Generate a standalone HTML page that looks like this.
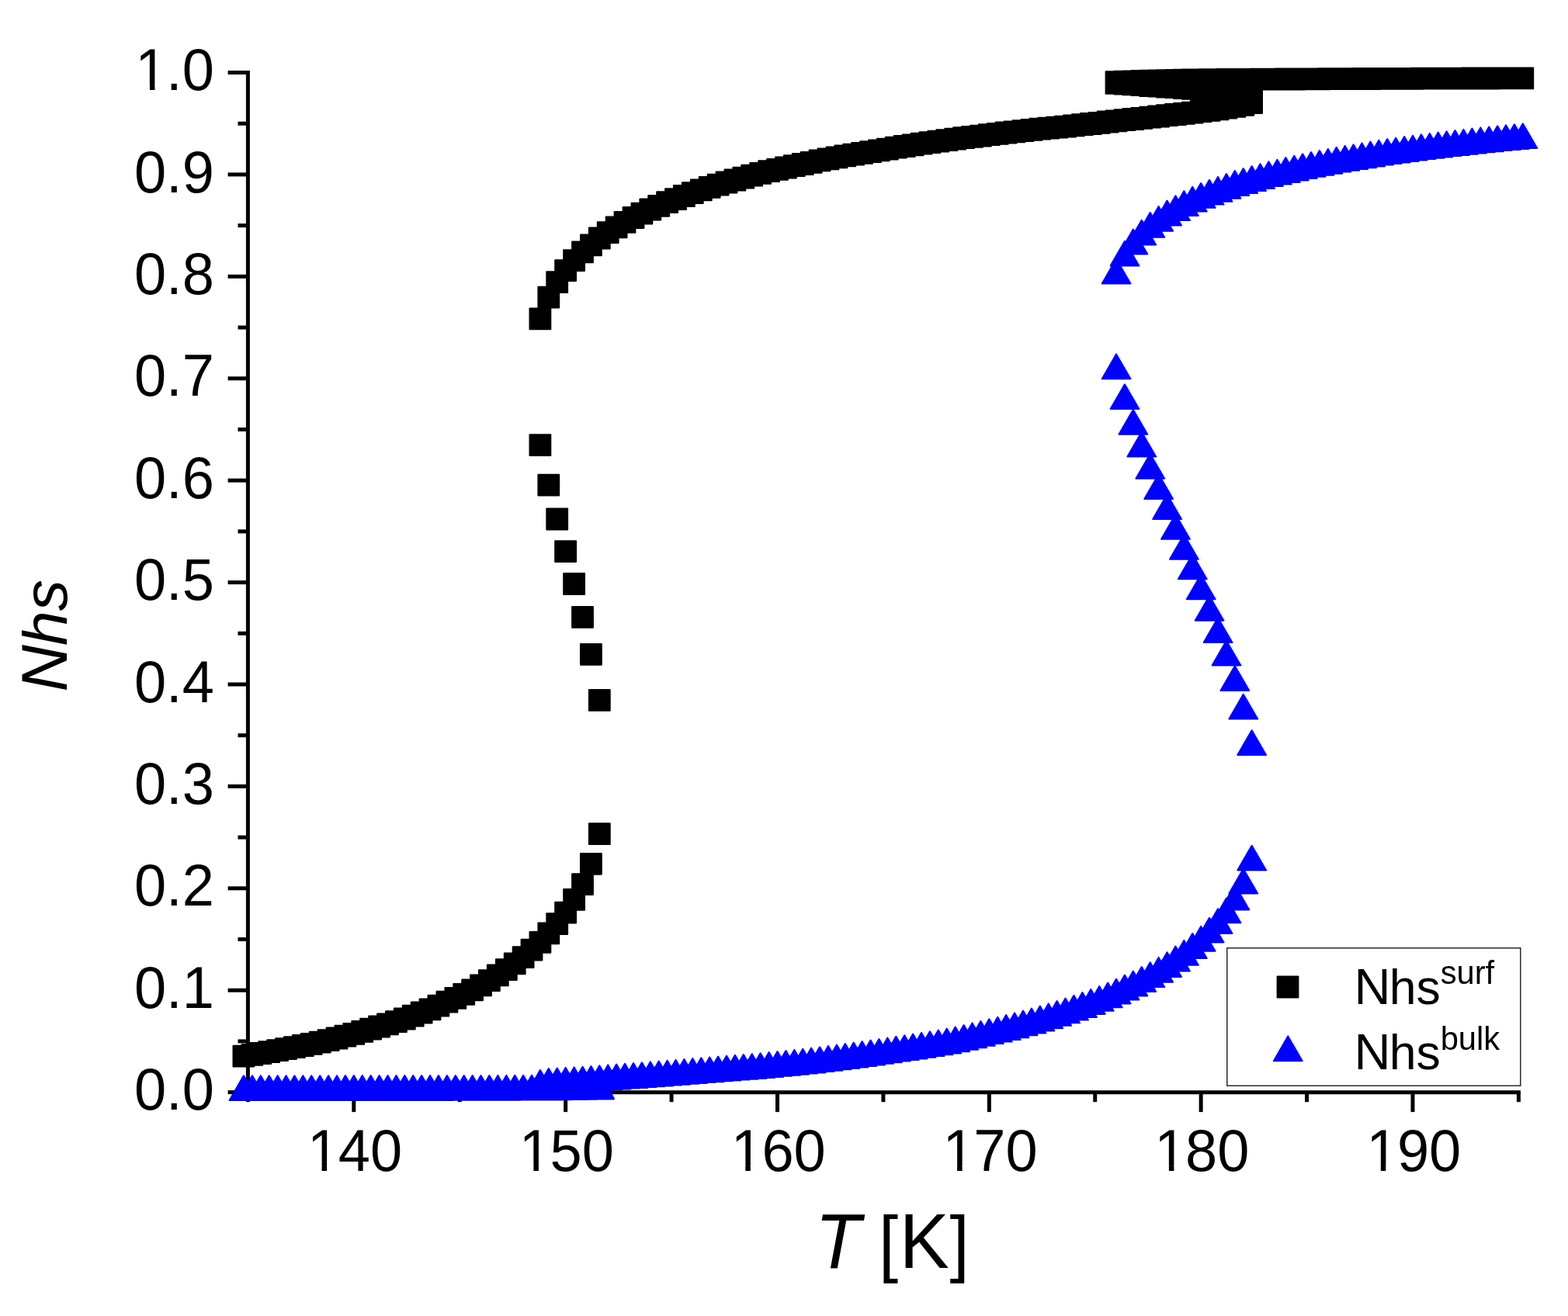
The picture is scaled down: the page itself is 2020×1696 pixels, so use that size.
<!DOCTYPE html>
<html lang="en"><head><meta charset="utf-8"><title>Nhs vs T</title>
<style>
html,body{margin:0;padding:0;background:#fff}
body{width:2020px;height:1696px;overflow:hidden}
svg{display:block}
text{font-family:"Liberation Sans",sans-serif;fill:#000}
.tk{font-size:74px}
.ax line{stroke:#000;stroke-width:5}
</style></head><body>
<svg width="2020" height="1696" viewBox="0 0 2020 1696">
<rect width="2020" height="1696" fill="#fff"/>
<g class="ax"><line x1="316.9" y1="1407.65" x2="1958.9" y2="1407.65"/><line x1="319.4" y1="91.0" x2="319.4" y2="1410.2"/><line x1="293.6" y1="1407.65" x2="319.4" y2="1407.65"/><line x1="306.5" y1="1341.94" x2="319.4" y2="1341.94"/><line x1="293.6" y1="1276.24" x2="319.4" y2="1276.24"/><line x1="306.5" y1="1210.53" x2="319.4" y2="1210.53"/><line x1="293.6" y1="1144.82" x2="319.4" y2="1144.82"/><line x1="306.5" y1="1079.11" x2="319.4" y2="1079.11"/><line x1="293.6" y1="1013.40" x2="319.4" y2="1013.40"/><line x1="306.5" y1="947.70" x2="319.4" y2="947.70"/><line x1="293.6" y1="881.99" x2="319.4" y2="881.99"/><line x1="306.5" y1="816.28" x2="319.4" y2="816.28"/><line x1="293.6" y1="750.58" x2="319.4" y2="750.58"/><line x1="306.5" y1="684.87" x2="319.4" y2="684.87"/><line x1="293.6" y1="619.16" x2="319.4" y2="619.16"/><line x1="306.5" y1="553.45" x2="319.4" y2="553.45"/><line x1="293.6" y1="487.74" x2="319.4" y2="487.74"/><line x1="306.5" y1="422.04" x2="319.4" y2="422.04"/><line x1="293.6" y1="356.33" x2="319.4" y2="356.33"/><line x1="306.5" y1="290.62" x2="319.4" y2="290.62"/><line x1="293.6" y1="224.91" x2="319.4" y2="224.91"/><line x1="306.5" y1="159.21" x2="319.4" y2="159.21"/><line x1="293.6" y1="93.50" x2="319.4" y2="93.50"/><line x1="319.40" y1="1407.7" x2="319.40" y2="1420.2"/><line x1="455.81" y1="1407.7" x2="455.81" y2="1433.1"/><line x1="592.23" y1="1407.7" x2="592.23" y2="1420.2"/><line x1="728.64" y1="1407.7" x2="728.64" y2="1433.1"/><line x1="865.06" y1="1407.7" x2="865.06" y2="1420.2"/><line x1="1001.48" y1="1407.7" x2="1001.48" y2="1433.1"/><line x1="1137.89" y1="1407.7" x2="1137.89" y2="1420.2"/><line x1="1274.31" y1="1407.7" x2="1274.31" y2="1433.1"/><line x1="1410.72" y1="1407.7" x2="1410.72" y2="1420.2"/><line x1="1547.14" y1="1407.7" x2="1547.14" y2="1433.1"/><line x1="1683.55" y1="1407.7" x2="1683.55" y2="1420.2"/><line x1="1819.97" y1="1407.7" x2="1819.97" y2="1433.1"/><line x1="1956.38" y1="1407.7" x2="1956.38" y2="1420.2"/></g>
<g><text class="tk" transform="translate(172.93 1430.2) scale(1 1.03)">0.0</text><text class="tk" transform="translate(172.93 1298.8) scale(1 1.03)">0.1</text><text class="tk" transform="translate(172.93 1167.4) scale(1 1.03)">0.2</text><text class="tk" transform="translate(172.93 1036.0) scale(1 1.03)">0.3</text><text class="tk" transform="translate(172.93 904.6) scale(1 1.03)">0.4</text><text class="tk" transform="translate(172.93 773.2) scale(1 1.03)">0.5</text><text class="tk" transform="translate(172.93 641.8) scale(1 1.03)">0.6</text><text class="tk" transform="translate(172.93 510.3) scale(1 1.03)">0.7</text><text class="tk" transform="translate(172.93 378.9) scale(1 1.03)">0.8</text><text class="tk" transform="translate(172.93 247.5) scale(1 1.03)">0.9</text><text class="tk" transform="translate(172.93 116.1) scale(1 1.03)"><tspan dx="1.4">1</tspan><tspan dx="-1.4">.0</tspan></text><text class="tk" transform="translate(394.57 1509.2) scale(1 1.03)"><tspan dx="1.4">1</tspan><tspan dx="-1.4">40</tspan></text><text class="tk" transform="translate(667.37 1509.2) scale(1 1.03)"><tspan dx="1.4">1</tspan><tspan dx="-1.4">50</tspan></text><text class="tk" transform="translate(940.27 1509.2) scale(1 1.03)"><tspan dx="1.4">1</tspan><tspan dx="-1.4">60</tspan></text><text class="tk" transform="translate(1213.07 1509.2) scale(1 1.03)"><tspan dx="1.4">1</tspan><tspan dx="-1.4">70</tspan></text><text class="tk" transform="translate(1485.87 1509.2) scale(1 1.03)"><tspan dx="1.4">1</tspan><tspan dx="-1.4">80</tspan></text><text class="tk" transform="translate(1758.77 1509.2) scale(1 1.03)"><tspan dx="1.4">1</tspan><tspan dx="-1.4">90</tspan></text></g>
<g><rect x="178.77" y="109.10" width="14.17" height="8" fill="#fff"/><rect x="199.48" y="109.10" width="13.59" height="8" fill="#fff"/><rect x="400.40" y="1502.20" width="14.17" height="8" fill="#fff"/><rect x="421.12" y="1502.20" width="13.59" height="8" fill="#fff"/><rect x="673.20" y="1502.20" width="14.17" height="8" fill="#fff"/><rect x="693.92" y="1502.20" width="13.59" height="8" fill="#fff"/><rect x="946.10" y="1502.20" width="14.17" height="8" fill="#fff"/><rect x="966.82" y="1502.20" width="13.59" height="8" fill="#fff"/><rect x="1218.90" y="1502.20" width="14.17" height="8" fill="#fff"/><rect x="1239.62" y="1502.20" width="13.59" height="8" fill="#fff"/><rect x="1491.70" y="1502.20" width="14.17" height="8" fill="#fff"/><rect x="1512.42" y="1502.20" width="13.59" height="8" fill="#fff"/><rect x="1764.60" y="1502.20" width="14.17" height="8" fill="#fff"/><rect x="1785.32" y="1502.20" width="13.59" height="8" fill="#fff"/></g>
<text font-size="96" transform="translate(1046 1633.8) scale(1 1.04)" xml:space="preserve"><tspan font-style="italic" dx="4">T</tspan><tspan dx="-3.3"> </tspan><tspan font-size="90.6">[</tspan><tspan dx="1.5">K</tspan><tspan font-size="90.6" dx="0.8">]</tspan></text>
<text font-size="80.4" font-style="italic" transform="translate(85.9 891.4) rotate(-90)"><tspan font-size="83.6">N</tspan><tspan dx="-1">hs</tspan></text>
<path fill="#000" stroke="#000" stroke-width="2" stroke-linejoin="round" d="M300.5 1347.7h26.8v26.8h-26.8zM311.5 1345.9h26.8v26.8h-26.8zM322.4 1344.1h26.8v26.8h-26.8zM333.3 1342.2h26.8v26.8h-26.8zM344.2 1340.2h26.8v26.8h-26.8zM355.1 1338.2h26.8v26.8h-26.8zM366 1336.2h26.8v26.8h-26.8zM376.9 1334.1h26.8v26.8h-26.8zM387.8 1332h26.8v26.8h-26.8zM398.8 1329.7h26.8v26.8h-26.8zM409.7 1327.2h26.8v26.8h-26.8zM420.6 1324.6h26.8v26.8h-26.8zM431.5 1321.8h26.8v26.8h-26.8zM442.4 1318.9h26.8v26.8h-26.8zM453.3 1315.9h26.8v26.8h-26.8zM464.2 1312.8h26.8v26.8h-26.8zM475.2 1309.6h26.8v26.8h-26.8zM486.1 1306.5h26.8v26.8h-26.8zM497 1303.3h26.8v26.8h-26.8zM507.9 1299.6h26.8v26.8h-26.8zM518.8 1295.7h26.8v26.8h-26.8zM529.7 1291.6h26.8v26.8h-26.8zM540.6 1287.4h26.8v26.8h-26.8zM551.5 1282.8h26.8v26.8h-26.8zM562.5 1277.7h26.8v26.8h-26.8zM573.4 1272.9h26.8v26.8h-26.8zM584.3 1268h26.8v26.8h-26.8zM595.2 1262.4h26.8v26.8h-26.8zM606.1 1256.4h26.8v26.8h-26.8zM617 1250.2h26.8v26.8h-26.8zM627.9 1243.5h26.8v26.8h-26.8zM638.9 1236.2h26.8v26.8h-26.8zM649.8 1228.4h26.8v26.8h-26.8zM660.7 1220.3h26.8v26.8h-26.8zM671.6 1210.8h26.8v26.8h-26.8zM682.5 1200.9h26.8v26.8h-26.8zM693.4 1189.5h26.8v26.8h-26.8zM704.3 1177.3h26.8v26.8h-26.8zM715.2 1162.8h26.8v26.8h-26.8zM726.2 1146h26.8v26.8h-26.8zM737.1 1126.2h26.8v26.8h-26.8zM748 1100h26.8v26.8h-26.8zM758.9 1061.2h26.8v26.8h-26.8zM682.5 560.2h26.8v26.8h-26.8zM693.4 611.7h26.8v26.8h-26.8zM704.3 655.6h26.8v26.8h-26.8zM715.2 697.2h26.8v26.8h-26.8zM726.2 739.1h26.8v26.8h-26.8zM737.1 782h26.8v26.8h-26.8zM748 830h26.8v26.8h-26.8zM758.9 889h26.8v26.8h-26.8zM682.5 397.5h26.8v26.8h-26.8zM693.4 369.7h26.8v26.8h-26.8zM704.3 350.3h26.8v26.8h-26.8zM715.2 335.2h26.8v26.8h-26.8zM726.2 322.3h26.8v26.8h-26.8zM737.1 311.4h26.8v26.8h-26.8zM748 302.5h26.8v26.8h-26.8zM758.9 293.6h26.8v26.8h-26.8zM769.8 286.2h26.8v26.8h-26.8zM780.7 279.5h26.8v26.8h-26.8zM791.6 273h26.8v26.8h-26.8zM802.6 267.1h26.8v26.8h-26.8zM813.5 261.7h26.8v26.8h-26.8zM824.4 256.6h26.8v26.8h-26.8zM835.3 251.9h26.8v26.8h-26.8zM846.2 247.3h26.8v26.8h-26.8zM857.1 243.2h26.8v26.8h-26.8zM868 239.1h26.8v26.8h-26.8zM878.9 235.3h26.8v26.8h-26.8zM889.9 231.5h26.8v26.8h-26.8zM900.8 227.9h26.8v26.8h-26.8zM911.7 224.8h26.8v26.8h-26.8zM922.6 221.6h26.8v26.8h-26.8zM933.5 218.6h26.8v26.8h-26.8zM944.4 215.7h26.8v26.8h-26.8zM955.3 212.7h26.8v26.8h-26.8zM966.2 209.9h26.8v26.8h-26.8zM977.2 207.3h26.8v26.8h-26.8zM988.1 204.9h26.8v26.8h-26.8zM999 202.6h26.8v26.8h-26.8zM1009.9 200.2h26.8v26.8h-26.8zM1020.8 198.1h26.8v26.8h-26.8zM1031.7 195.9h26.8v26.8h-26.8zM1042.6 193.5h26.8v26.8h-26.8zM1053.6 191.4h26.8v26.8h-26.8zM1064.5 189.4h26.8v26.8h-26.8zM1075.4 187.5h26.8v26.8h-26.8zM1086.3 185.8h26.8v26.8h-26.8zM1097.2 184h26.8v26.8h-26.8zM1108.1 182.2h26.8v26.8h-26.8zM1119 180.4h26.8v26.8h-26.8zM1129.9 178.7h26.8v26.8h-26.8zM1140.9 176.8h26.8v26.8h-26.8zM1151.8 175.1h26.8v26.8h-26.8zM1162.7 173.4h26.8v26.8h-26.8zM1173.6 171.8h26.8v26.8h-26.8zM1184.5 170.3h26.8v26.8h-26.8zM1195.4 168.8h26.8v26.8h-26.8zM1206.3 167.2h26.8v26.8h-26.8zM1217.3 165.8h26.8v26.8h-26.8zM1228.2 164.3h26.8v26.8h-26.8zM1239.1 163h26.8v26.8h-26.8zM1250 161.7h26.8v26.8h-26.8zM1260.9 160.3h26.8v26.8h-26.8zM1271.8 158.9h26.8v26.8h-26.8zM1282.7 157.6h26.8v26.8h-26.8zM1293.6 156.5h26.8v26.8h-26.8zM1304.6 155.3h26.8v26.8h-26.8zM1315.5 154h26.8v26.8h-26.8zM1326.4 152.8h26.8v26.8h-26.8zM1337.3 151.8h26.8v26.8h-26.8zM1348.2 150.7h26.8v26.8h-26.8zM1359.1 149.7h26.8v26.8h-26.8zM1370 148.5h26.8v26.8h-26.8zM1381 147.3h26.8v26.8h-26.8zM1391.9 146.1h26.8v26.8h-26.8zM1402.8 144.9h26.8v26.8h-26.8zM1413.7 143.6h26.8v26.8h-26.8zM1424.6 142.4h26.8v26.8h-26.8zM1435.5 141.3h26.8v26.8h-26.8zM1446.4 140.1h26.8v26.8h-26.8zM1457.3 139h26.8v26.8h-26.8zM1468.3 137.8h26.8v26.8h-26.8zM1479.2 136.6h26.8v26.8h-26.8zM1490.1 135.3h26.8v26.8h-26.8zM1501 134.1h26.8v26.8h-26.8zM1511.9 132.9h26.8v26.8h-26.8zM1522.8 131.7h26.8v26.8h-26.8zM1533.7 130.3h26.8v26.8h-26.8zM1544.6 128.9h26.8v26.8h-26.8zM1555.6 127.4h26.8v26.8h-26.8zM1566.5 125.8h26.8v26.8h-26.8zM1577.4 124h26.8v26.8h-26.8zM1588.3 121.9h26.8v26.8h-26.8zM1599.2 119.3h26.8v26.8h-26.8zM1424.6 94h26.8v26.8h-26.8zM1435.5 94.8h26.8v26.8h-26.8zM1446.4 95.5h26.8v26.8h-26.8zM1457.3 96.3h26.8v26.8h-26.8zM1468.3 97.1h26.8v26.8h-26.8zM1479.2 97.8h26.8v26.8h-26.8zM1490.1 98.6h26.8v26.8h-26.8zM1501 99.3h26.8v26.8h-26.8zM1511.9 100.1h26.8v26.8h-26.8zM1522.8 100.9h26.8v26.8h-26.8zM1533.7 101.8h26.8v26.8h-26.8zM1544.6 103h26.8v26.8h-26.8zM1555.6 103.9h26.8v26.8h-26.8zM1566.5 104.8h26.8v26.8h-26.8zM1577.4 105.7h26.8v26.8h-26.8zM1588.3 106.7h26.8v26.8h-26.8zM1599.2 107.7h26.8v26.8h-26.8zM1424.6 92.2h26.8v26.8h-26.8zM1435.5 91.8h26.8v26.8h-26.8zM1446.4 91.4h26.8v26.8h-26.8zM1457.3 91.1h26.8v26.8h-26.8zM1468.3 90.8h26.8v26.8h-26.8zM1479.2 90.5h26.8v26.8h-26.8zM1490.1 90.2h26.8v26.8h-26.8zM1501 90h26.8v26.8h-26.8zM1511.9 89.8h26.8v26.8h-26.8zM1522.8 89.6h26.8v26.8h-26.8zM1533.7 89.4h26.8v26.8h-26.8zM1544.6 89.3h26.8v26.8h-26.8zM1555.6 89.2h26.8v26.8h-26.8zM1566.5 89.1h26.8v26.8h-26.8zM1577.4 89h26.8v26.8h-26.8zM1588.3 88.9h26.8v26.8h-26.8zM1599.2 88.9h26.8v26.8h-26.8zM1610.1 88.8h26.8v26.8h-26.8zM1621 88.7h26.8v26.8h-26.8zM1632 88.7h26.8v26.8h-26.8zM1642.9 88.6h26.8v26.8h-26.8zM1653.8 88.6h26.8v26.8h-26.8zM1664.7 88.5h26.8v26.8h-26.8zM1675.6 88.4h26.8v26.8h-26.8zM1686.5 88.4h26.8v26.8h-26.8zM1697.4 88.3h26.8v26.8h-26.8zM1708.3 88.3h26.8v26.8h-26.8zM1719.3 88.2h26.8v26.8h-26.8zM1730.2 88.2h26.8v26.8h-26.8zM1741.1 88.1h26.8v26.8h-26.8zM1752 88.1h26.8v26.8h-26.8zM1762.9 88h26.8v26.8h-26.8zM1773.8 88h26.8v26.8h-26.8zM1784.7 88h26.8v26.8h-26.8zM1795.7 87.9h26.8v26.8h-26.8zM1806.6 87.9h26.8v26.8h-26.8zM1817.5 87.8h26.8v26.8h-26.8zM1828.4 87.8h26.8v26.8h-26.8zM1839.3 87.8h26.8v26.8h-26.8zM1850.2 87.7h26.8v26.8h-26.8zM1861.1 87.7h26.8v26.8h-26.8zM1872 87.7h26.8v26.8h-26.8zM1883 87.6h26.8v26.8h-26.8zM1893.9 87.6h26.8v26.8h-26.8zM1904.8 87.6h26.8v26.8h-26.8zM1915.7 87.5h26.8v26.8h-26.8zM1926.6 87.5h26.8v26.8h-26.8zM1937.5 87.5h26.8v26.8h-26.8zM1948.4 87.5h26.8v26.8h-26.8z"/>
<path fill="#00f" stroke="#00f" stroke-width="2" stroke-linejoin="round" d="M313.9 1386.2l18.4 31.8h-36.7zM324.9 1386.2l18.4 31.8h-36.7zM335.8 1386.2l18.4 31.8h-36.7zM346.7 1386.2l18.4 31.8h-36.7zM357.6 1386.2l18.4 31.8h-36.7zM368.5 1386.2l18.4 31.8h-36.7zM379.4 1386.2l18.4 31.8h-36.7zM390.3 1386.2l18.4 31.8h-36.7zM401.2 1386.2l18.4 31.8h-36.7zM412.2 1386.2l18.4 31.8h-36.7zM423.1 1386.2l18.4 31.8h-36.7zM434 1386.2l18.4 31.8h-36.7zM444.9 1386.1l18.4 31.8h-36.7zM455.8 1386.1l18.4 31.8h-36.7zM466.7 1386.1l18.4 31.8h-36.7zM477.6 1386.1l18.4 31.8h-36.7zM488.6 1386.1l18.4 31.8h-36.7zM499.5 1386.1l18.4 31.8h-36.7zM510.4 1386.1l18.4 31.8h-36.7zM521.3 1386.1l18.4 31.8h-36.7zM532.2 1386.1l18.4 31.8h-36.7zM543.1 1386.1l18.4 31.8h-36.7zM554 1386.1l18.4 31.8h-36.7zM564.9 1386.1l18.4 31.8h-36.7zM575.9 1386l18.4 31.8h-36.7zM586.8 1386l18.4 31.8h-36.7zM597.7 1386l18.4 31.8h-36.7zM608.6 1386l18.4 31.8h-36.7zM619.5 1386l18.4 31.8h-36.7zM630.4 1385.9l18.4 31.8h-36.7zM641.3 1385.9l18.4 31.8h-36.7zM652.3 1385.9l18.4 31.8h-36.7zM663.2 1385.8l18.4 31.8h-36.7zM674.1 1385.8l18.4 31.8h-36.7zM685 1385.7l18.4 31.8h-36.7zM695.9 1385.7l18.4 31.8h-36.7zM706.8 1385.6l18.4 31.8h-36.7zM717.7 1385.5l18.4 31.8h-36.7zM728.6 1385.3l18.4 31.8h-36.7zM739.6 1385.2l18.4 31.8h-36.7zM750.5 1385l18.4 31.8h-36.7zM761.4 1384.8l18.4 31.8h-36.7zM772.3 1384.6l18.4 31.8h-36.7zM695.9 1381.2l18.4 31.8h-36.7zM706.8 1381.6l18.4 31.8h-36.7zM717.7 1381.9l18.4 31.8h-36.7zM728.6 1382.3l18.4 31.8h-36.7zM739.6 1382.7l18.4 31.8h-36.7zM750.5 1383.1l18.4 31.8h-36.7zM761.4 1383.4l18.4 31.8h-36.7zM772.3 1383.8l18.4 31.8h-36.7zM695.9 1379.1l18.4 31.8h-36.7zM706.8 1377l18.4 31.8h-36.7zM717.7 1376.5l18.4 31.8h-36.7zM728.6 1375.9l18.4 31.8h-36.7zM739.6 1375.4l18.4 31.8h-36.7zM750.5 1374.7l18.4 31.8h-36.7zM761.4 1374l18.4 31.8h-36.7zM772.3 1373.2l18.4 31.8h-36.7zM783.2 1372.4l18.4 31.8h-36.7zM794.1 1371.6l18.4 31.8h-36.7zM805 1370.8l18.4 31.8h-36.7zM816 1370.1l18.4 31.8h-36.7zM826.9 1369.3l18.4 31.8h-36.7zM837.8 1368.4l18.4 31.8h-36.7zM848.7 1367.6l18.4 31.8h-36.7zM859.6 1366.7l18.4 31.8h-36.7zM870.5 1365.9l18.4 31.8h-36.7zM881.4 1365l18.4 31.8h-36.7zM892.3 1364.1l18.4 31.8h-36.7zM903.3 1363.2l18.4 31.8h-36.7zM914.2 1362.4l18.4 31.8h-36.7zM925.1 1361.5l18.4 31.8h-36.7zM936 1360.6l18.4 31.8h-36.7zM946.9 1359.8l18.4 31.8h-36.7zM957.8 1359l18.4 31.8h-36.7zM968.7 1358.2l18.4 31.8h-36.7zM979.6 1357.2l18.4 31.8h-36.7zM990.6 1356.1l18.4 31.8h-36.7zM1001.5 1355l18.4 31.8h-36.7zM1012.4 1354l18.4 31.8h-36.7zM1023.3 1352.9l18.4 31.8h-36.7zM1034.2 1351.8l18.4 31.8h-36.7zM1045.1 1350.6l18.4 31.8h-36.7zM1056 1349.3l18.4 31.8h-36.7zM1067 1347.9l18.4 31.8h-36.7zM1077.9 1346.5l18.4 31.8h-36.7zM1088.8 1345.1l18.4 31.8h-36.7zM1099.7 1343.6l18.4 31.8h-36.7zM1110.6 1342.1l18.4 31.8h-36.7zM1121.5 1340.6l18.4 31.8h-36.7zM1132.4 1339l18.4 31.8h-36.7zM1143.3 1337.4l18.4 31.8h-36.7zM1154.3 1335.8l18.4 31.8h-36.7zM1165.2 1334.2l18.4 31.8h-36.7zM1176.1 1332.6l18.4 31.8h-36.7zM1187 1330.9l18.4 31.8h-36.7zM1197.9 1329.3l18.4 31.8h-36.7zM1208.8 1327.5l18.4 31.8h-36.7zM1219.7 1325.6l18.4 31.8h-36.7zM1230.7 1323.4l18.4 31.8h-36.7zM1241.6 1321l18.4 31.8h-36.7zM1252.5 1318.4l18.4 31.8h-36.7zM1263.4 1315.9l18.4 31.8h-36.7zM1274.3 1313.3l18.4 31.8h-36.7zM1285.2 1310.8l18.4 31.8h-36.7zM1296.1 1308.1l18.4 31.8h-36.7zM1307 1305.4l18.4 31.8h-36.7zM1318 1302.5l18.4 31.8h-36.7zM1328.9 1299.6l18.4 31.8h-36.7zM1339.8 1296.6l18.4 31.8h-36.7zM1350.7 1293.4l18.4 31.8h-36.7zM1361.6 1290l18.4 31.8h-36.7zM1372.5 1286.5l18.4 31.8h-36.7zM1383.4 1282.8l18.4 31.8h-36.7zM1394.4 1279.1l18.4 31.8h-36.7zM1405.3 1275.1l18.4 31.8h-36.7zM1416.2 1270.9l18.4 31.8h-36.7zM1427.1 1266.5l18.4 31.8h-36.7zM1438 1261.6l18.4 31.8h-36.7zM1448.9 1256.6l18.4 31.8h-36.7zM1459.8 1251.6l18.4 31.8h-36.7zM1470.7 1246.1l18.4 31.8h-36.7zM1481.7 1240.2l18.4 31.8h-36.7zM1492.6 1233.9l18.4 31.8h-36.7zM1503.5 1227.2l18.4 31.8h-36.7zM1514.4 1219.6l18.4 31.8h-36.7zM1525.3 1211.9l18.4 31.8h-36.7zM1536.2 1203.1l18.4 31.8h-36.7zM1547.1 1193.9l18.4 31.8h-36.7zM1558 1182.8l18.4 31.8h-36.7zM1569 1171.2l18.4 31.8h-36.7zM1579.9 1157.5l18.4 31.8h-36.7zM1590.8 1140.6l18.4 31.8h-36.7zM1601.7 1119.7l18.4 31.8h-36.7zM1612.6 1089.8l18.4 31.8h-36.7zM1438 456.4l18.4 31.8h-36.7zM1448.9 495.3l18.4 31.8h-36.7zM1459.8 527.9l18.4 31.8h-36.7zM1470.7 556.8l18.4 31.8h-36.7zM1481.7 584.9l18.4 31.8h-36.7zM1492.6 611.2l18.4 31.8h-36.7zM1503.5 637.3l18.4 31.8h-36.7zM1514.4 663l18.4 31.8h-36.7zM1525.3 688.9l18.4 31.8h-36.7zM1536.2 714.5l18.4 31.8h-36.7zM1547.1 740.5l18.4 31.8h-36.7zM1558 767.9l18.4 31.8h-36.7zM1569 796.3l18.4 31.8h-36.7zM1579.9 825.7l18.4 31.8h-36.7zM1590.8 858.2l18.4 31.8h-36.7zM1601.7 894.8l18.4 31.8h-36.7zM1612.6 941.2l18.4 31.8h-36.7zM1438 333.7l18.4 31.8h-36.7zM1448.9 310.8l18.4 31.8h-36.7zM1459.8 295.6l18.4 31.8h-36.7zM1470.7 283.7l18.4 31.8h-36.7zM1481.7 273.9l18.4 31.8h-36.7zM1492.6 265.9l18.4 31.8h-36.7zM1503.5 258.6l18.4 31.8h-36.7zM1514.4 252.3l18.4 31.8h-36.7zM1525.3 246.2l18.4 31.8h-36.7zM1536.2 240.8l18.4 31.8h-36.7zM1547.1 236l18.4 31.8h-36.7zM1558 231.8l18.4 31.8h-36.7zM1569 227.9l18.4 31.8h-36.7zM1579.9 224l18.4 31.8h-36.7zM1590.8 220.1l18.4 31.8h-36.7zM1601.7 217.1l18.4 31.8h-36.7zM1612.6 214.1l18.4 31.8h-36.7zM1623.5 211.2l18.4 31.8h-36.7zM1634.4 208.2l18.4 31.8h-36.7zM1645.4 205.7l18.4 31.8h-36.7zM1656.3 203.1l18.4 31.8h-36.7zM1667.2 200.7l18.4 31.8h-36.7zM1678.1 198.3l18.4 31.8h-36.7zM1689 196l18.4 31.8h-36.7zM1699.9 193.9l18.4 31.8h-36.7zM1710.8 191.9l18.4 31.8h-36.7zM1721.7 189.8l18.4 31.8h-36.7zM1732.7 187.9l18.4 31.8h-36.7zM1743.6 186.2l18.4 31.8h-36.7zM1754.5 184.4l18.4 31.8h-36.7zM1765.4 182.6l18.4 31.8h-36.7zM1776.3 180.8l18.4 31.8h-36.7zM1787.2 179.1l18.4 31.8h-36.7zM1798.1 177.7l18.4 31.8h-36.7zM1809.1 176.1l18.4 31.8h-36.7zM1820 174.7l18.4 31.8h-36.7zM1830.9 173.2l18.4 31.8h-36.7zM1841.8 171.9l18.4 31.8h-36.7zM1852.7 170.6l18.4 31.8h-36.7zM1863.6 169.3l18.4 31.8h-36.7zM1874.5 168.1l18.4 31.8h-36.7zM1885.4 166.9l18.4 31.8h-36.7zM1896.4 165.6l18.4 31.8h-36.7zM1907.3 164.4l18.4 31.8h-36.7zM1918.2 163.4l18.4 31.8h-36.7zM1929.1 162.2l18.4 31.8h-36.7zM1940 161.3l18.4 31.8h-36.7zM1950.9 160.3l18.4 31.8h-36.7zM1961.8 159.3l18.4 31.8h-36.7z"/>
<rect x="1580.8" y="1221.8" width="378" height="177.4" fill="#fff" stroke="#000" stroke-width="1.25"/>
<path fill="#000" stroke="#000" stroke-width="2" stroke-linejoin="round" d="M1645.6 1258.6h26.8v26.8h-26.8z"/>
<path fill="#00f" stroke="#00f" stroke-width="2" stroke-linejoin="round" d="M1659.2 1335.4l18.4 31.8h-36.7z"/>
<text font-size="62.5" transform="translate(1744.5 1294)"><tspan font-size="65">N</tspan><tspan dx="-1.8">hs</tspan><tspan font-size="41.7" dy="-25.6">surf</tspan></text>
<text font-size="62.5" transform="translate(1744.5 1377.8)"><tspan font-size="65">N</tspan><tspan dx="-1.8">hs</tspan><tspan font-size="41.7" dy="-25">bulk</tspan></text>
</svg></body></html>
